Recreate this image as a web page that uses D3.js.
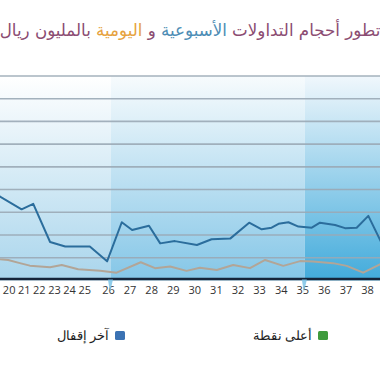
<!DOCTYPE html>
<html><head><meta charset="utf-8">
<script src="https://cdn.jsdelivr.net/npm/d3@7"></script>
<style>html,body{margin:0;padding:0;background:#fff;overflow:hidden}</style>
</head><body>
<script>
// ---- data ----
const titleParts = [
  {text: "تطور أحجام التداولات ", role: "main"},
  {text: "الأسبوعية", role: "weekly"},
  {text: " و ", role: "main"},
  {text: "اليومية", role: "daily"},
  {text: " بالمليون ريال", role: "main"}
];
const weekLabels = ["20","21","22","23","24","25","26","27","28","29","30","31","32","33","34","35","36","37","38"];
const weekLabelDays = [2,5.5,9,12.5,16,19.5,25,30,35,40,45,50,55,60,65,70,75,80,85];
const yTicks = [100,200,300,400,500,600,700,800,900];
// weekly (blue) series
const weeklyDays =   [-1.5,0,5,7.7,11.6,15.1,20.8,24.8,28.2,30.6,34.5,37.1,40.5,45.6,49,53.3,57.7,60.6,62.9,64.5,66.8,69.1,72.2,74.1,77.6,79.9,82.6,85.3,88.5];
const weeklyValues = [395,369,313,337,169,149,149,84,256,222,241,163,173,156,181,184,254,225,232,249,256,237,232,254,244,230,232,284,160];
// daily (grey) series
const dailyDays =   [-1,0,1.9,4.6,6.9,11.6,14.3,18.1,23.2,27,32.6,35.9,39.4,43.2,46.3,50.2,54,57.9,61.4,65.6,69.5,72.5,77.1,80.3,84.1,88,89];
const dailyValues = [95,93,90,76,65,58,68,49,43,34,80,54,61,42,56,46,68,54,90,64,85,83,76,64,34,71,75];
// shaded periods
const bandStarts = [-5,25.7,70.6];
const bandEnds   = [25.7,70.6,95];
const markerDays = [25.7,70.6];
const legendLabels = ["أعلى نقطة","آخر إقفال"];
const legendColors = ["#3f9b3d","#3b72b3"];

// ---- chart ----
const W = 380, H = 372;
const svg = d3.select("body").append("svg").attr("width", W).attr("height", H)
  .style("font-family","'Open Sans', sans-serif");

const x = d3.scaleLinear().domain([0, 88]).range([0, 380]);
const y = d3.scaleLinear().domain([0, 900]).range([280.4, 76]);

const defs = svg.append("defs");
const bandColors = [["#ffffff","#a9d5ec"],["#f7fbfd","#84c6e7"],["#f0f7fc","#42abdb"]];
bandColors.forEach((c,i)=>{
  const g = defs.append("linearGradient").attr("id","bg"+i).attr("x1",0).attr("y1",0).attr("x2",0).attr("y2",1);
  g.append("stop").attr("offset","0%").attr("stop-color",c[0]);
  g.append("stop").attr("offset","100%").attr("stop-color",c[1]);
});
defs.append("clipPath").attr("id","clip").append("rect")
  .attr("x",0).attr("y",y(900)-2).attr("width",W).attr("height",y(0)-y(900)+4);

// bands
svg.append("g").selectAll("rect").data(bandStarts).join("rect")
  .attr("x",(d)=>x(d)).attr("width",(d,i)=>x(bandEnds[i])-x(d))
  .attr("y",y(900)).attr("height",y(0)-y(900))
  .attr("fill",(d,i)=>`url(#bg${i})`);

// gridlines
svg.append("g").selectAll("line").data(yTicks).join("line")
  .attr("x1",0).attr("x2",W).attr("y1",d=>y(d)).attr("y2",d=>y(d))
  .attr("stroke","#9aa9b5").attr("stroke-opacity",0.9).attr("stroke-width",1.6);

// lines
const plot = svg.append("g").attr("clip-path","url(#clip)");
const line = d3.line().x(d=>x(d[0])).y(d=>y(d[1]));
plot.append("path").datum(dailyDays.map((d,i)=>[d,dailyValues[i]]))
  .attr("d",line).attr("fill","none").attr("stroke","#b2a597").attr("stroke-width",2).attr("stroke-linejoin","round");
plot.append("path").datum(weeklyDays.map((d,i)=>[d,weeklyValues[i]]))
  .attr("d",line).attr("fill","none").attr("stroke","#2b6d9c").attr("stroke-width",2).attr("stroke-linejoin","round");

// axis
const xAxis = d3.axisBottom(x).tickValues(weekLabelDays).tickFormat((d,i)=>weekLabels[i]).tickSize(0).tickPadding(7);
const ax = svg.append("g").attr("transform",`translate(0,${y(0)-1.4})`).call(xAxis);
ax.select(".domain").attr("stroke","#15253a").attr("stroke-width",2.4).attr("d",`M-5,0H${W+5}`);
ax.selectAll("text").attr("font-size",11).attr("fill","#333").attr("font-family","'Open Sans', sans-serif");

// markers
svg.append("g").selectAll("path").data(markerDays).join("path")
  .attr("d",d=>`M${x(d)-3},${y(0)-1}L${x(d)+2},${y(0)-1}L${x(d)-1},${y(0)+12}Z`)
  .attr("fill","#7cc4e8").attr("opacity",0.85);

// title
const roleColor = {main:"#8b4c72", weekly:"#4d8db5", daily:"#e6a23e"};
const title = svg.append("text").attr("x",190).attr("y",36).attr("text-anchor","middle")
  .attr("font-family","'DejaVu Sans', sans-serif").attr("font-size",16.7);
title.selectAll("tspan").data(titleParts).join("tspan")
  .text(d=>d.text).attr("fill",d=>roleColor[d.role]);

// legend
const legX = [312, 109];
const lg = svg.append("g").selectAll("g").data(legendLabels).join("g");
lg.append("rect").attr("x",(d,i)=>legX[i]+6).attr("y",331).attr("width",10).attr("height",9).attr("rx",1.5)
  .attr("fill",(d,i)=>legendColors[i]);
lg.append("text").attr("x",(d,i)=>legX[i]).attr("y",340).attr("text-anchor","end")
  .attr("font-family","'Liberation Sans', Arial, sans-serif").attr("font-size",12.5).attr("fill","#222")
  .text(d=>d);
</script>
</body></html>
